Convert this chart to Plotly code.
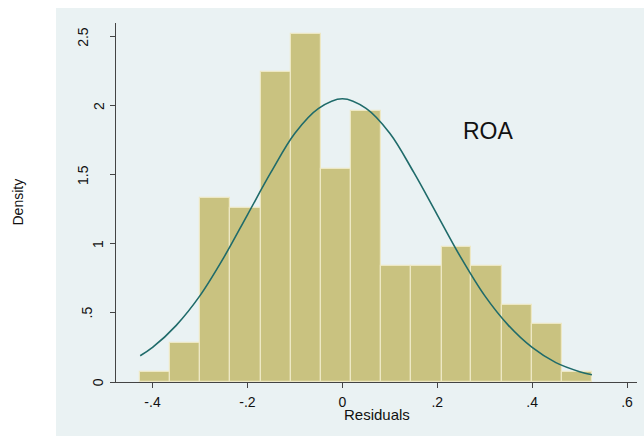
import plotly.graph_objects as go

# ---- data ----
bin_edges = [-0.426, -0.363, -0.299, -0.236, -0.172, -0.109, -0.045, 0.018,
             0.082, 0.145, 0.209, 0.272, 0.336, 0.399, 0.463, 0.526]
densities = [0.07, 0.28, 1.33, 1.26, 2.24, 2.52, 1.54, 1.96,
             0.84, 0.84, 0.98, 0.84, 0.56, 0.42, 0.07]

curve_x = [-0.426, -0.40, -0.35, -0.30, -0.25, -0.20, -0.15, -0.10, -0.05, 0.0,
           0.05, 0.10, 0.15, 0.20, 0.25, 0.30, 0.35, 0.40, 0.45, 0.50, 0.526]
curve_y = [0.19, 0.25, 0.41, 0.625, 0.90, 1.21, 1.52, 1.80, 1.98, 2.05,
           1.98, 1.80, 1.52, 1.21, 0.90, 0.625, 0.41, 0.25, 0.14, 0.075, 0.053]

x_ticks = [-0.4, -0.2, 0.0, 0.2, 0.4, 0.6]
x_tick_labels = ["-.4", "-.2", "0", ".2", ".4", ".6"]
y_ticks = [0, 0.5, 1, 1.5, 2, 2.5]
y_tick_labels = ["0", ".5", "1", "1.5", "2", "2.5"]

label_text = "ROA"
x_title = "Residuals"
y_title = "Density"

# ---- figure ----
centers = [(a + b) / 2 for a, b in zip(bin_edges[:-1], bin_edges[1:])]
widths = [b - a for a, b in zip(bin_edges[:-1], bin_edges[1:])]

FONT = "Liberation Sans, Arial, sans-serif"
BG = "#EAF2F3"
TXT = "#111"

fig = go.Figure()
fig.add_trace(go.Bar(
    x=centers, y=densities, width=widths,
    marker=dict(color="#C9C280", line=dict(color="#EDE8C4", width=1.2)),
    hoverinfo="skip", showlegend=False,
))
fig.add_trace(go.Scatter(
    x=curve_x, y=curve_y, mode="lines", line_shape="spline",
    line=dict(color="#1F6B6A", width=1.6), showlegend=False, hoverinfo="skip",
))

W, H = 644, 436
L, R, T, B = 116, 7, 23, 54
pw, ph = W - L - R, H - T - B

fig.add_shape(type="rect", xref="paper", yref="paper",
              x0=(56 - L) / pw, x1=(W - L) / pw,
              y0=-B / ph, y1=(H - B - 8) / ph,
              fillcolor=BG, line=dict(width=0), layer="below")

# rotated y tick labels, Stata-style: longer labels sit further from the axis
label_center_px = {1: 98.3, 2: 86.5, 3: 82.3}
for v, t in zip(y_ticks, y_tick_labels):
    cx = label_center_px.get(len(t), 82.3)
    fig.add_annotation(x=(cx - L) / pw, y=v, xref="paper", yref="y", text=t,
                       textangle=-90, showarrow=False, xanchor="center",
                       yanchor="middle",
                       font=dict(family=FONT, size=14, color=TXT))

fig.add_annotation(x=0.307, y=1.82, xref="x", yref="y", text=label_text,
                   showarrow=False, xanchor="center", yanchor="middle",
                   font=dict(family=FONT, size=23, color=TXT))
fig.add_annotation(x=(17 - L) / pw, y=0.5, xref="paper", yref="paper", text=y_title,
                   textangle=-90, showarrow=False, xanchor="center", yanchor="middle",
                   font=dict(family=FONT, size=14, color=TXT))
fig.add_annotation(x=0.5, y=-(414 - (H - B)) / ph, xref="paper", yref="paper",
                   text=x_title, showarrow=False, xanchor="center", yanchor="middle",
                   font=dict(family=FONT, size=15, color=TXT))

fig.update_layout(
    width=W, height=H, autosize=False,
    margin=dict(l=L, r=R, t=T, b=B),
    paper_bgcolor="white", plot_bgcolor="white",
    bargap=0,
    xaxis=dict(range=[-0.477, 0.621], tickvals=x_ticks, ticktext=x_tick_labels,
               showgrid=False, zeroline=False, showline=True, linecolor="#444",
               linewidth=1.2, ticks="outside", ticklen=5, tickcolor="#444",
               ticklabelstandoff=2,
               tickfont=dict(family=FONT, size=14, color=TXT)),
    yaxis=dict(range=[0, 2.598], tickvals=y_ticks, showticklabels=False,
               showgrid=True, gridcolor=BG, gridwidth=1.2, zeroline=False,
               showline=True, linecolor="#444", linewidth=1.2,
               ticks="outside", ticklen=5, tickcolor="#444"),
)

fig.write_html("out.html")
